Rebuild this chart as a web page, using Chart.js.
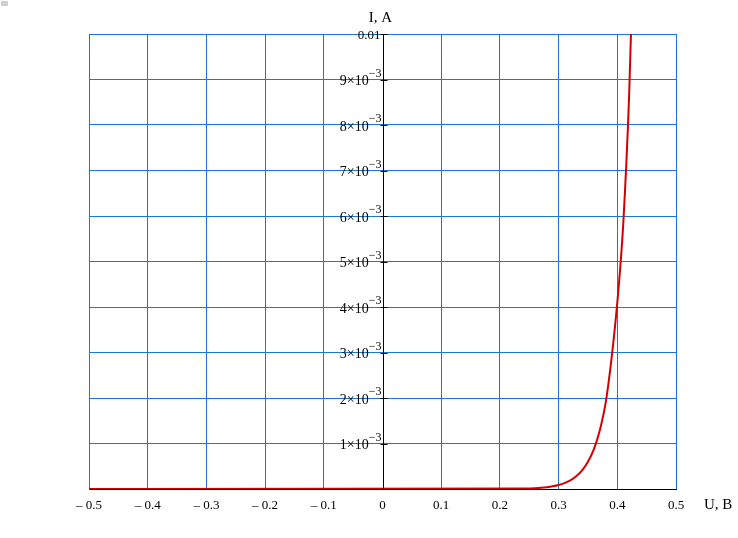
<!DOCTYPE html>
<html>
<head>
<meta charset="utf-8">
<script src="https://cdn.jsdelivr.net/npm/chart.js@4/dist/chart.umd.min.js"></script>
<style>
  body { margin: 0; background: #fff; }
  #wrap { position: relative; width: 738px; height: 538px; }
  #marca { position: absolute; left: 1px; top: 1px; width: 7px; height: 5px; background: #d0d0d0; }
</style>
</head>
<body>
<div id="wrap">
  <div id="marca"></div>
  <canvas id="grafica" width="738" height="538"></canvas>
</div>
<script>
// Datos
const tensionU = [-0.5, 0.25, 0.26, 0.27, 0.28, 0.29, 0.30, 0.31, 0.32, 0.33, 0.34, 0.35,
  0.36, 0.37, 0.38, 0.39, 0.40, 0.41, 0.42, 0.4233, 0.43];
const corrienteI = [0, 0.000013, 0.000019, 0.000028, 0.000041, 0.00006, 0.000088, 0.00013, 0.00019,
  0.00028, 0.00041, 0.0006, 0.00087, 0.00128, 0.00188, 0.00285, 0.0041, 0.0058, 0.0086, 0.01, 0.0135];
const ticksX = [-0.5, -0.4, -0.3, -0.2, -0.1, 0, 0.1, 0.2, 0.3, 0.4, 0.5];
const ticksY = ['1', '2', '3', '4', '5', '6', '7', '8', '9'];
const etiquetaX = 'U, B';
const etiquetaY = 'I, A';

const AZUL = '#1a78d0';
const FUENTE = '"Liberation Serif", "Times New Roman", serif';

// Ejes en el origen, etiquetas de Y con potencias
const ejesPlugin = {
  id: 'ejes',
  afterDraw(chart) {
    const { ctx, chartArea } = chart;
    const sx = chart.scales.x;
    const sy = chart.scales.y;
    const x0 = Math.round(sx.getPixelForValue(0)) + 0.5;
    const y0 = sy.getPixelForValue(0);

    ctx.save();
    ctx.strokeStyle = '#000';
    ctx.lineWidth = 1;
    ctx.beginPath();
    ctx.moveTo(x0, chartArea.top);
    ctx.lineTo(x0, chartArea.bottom);
    ctx.stroke();

    // marcas en el eje Y
    ctx.beginPath();
    for (let i = 1; i <= 10; i++) {
      const y = Math.round(sy.getPixelForValue(i / 1000)) + 0.5;
      ctx.moveTo(x0 - 3, y);
      ctx.lineTo(x0 + 4, y);
    }
    ctx.stroke();

    ctx.fillStyle = '#000';
    ctx.textBaseline = 'alphabetic';
    ctx.textAlign = 'right';
    ctx.font = '13px ' + FUENTE;
    ctx.fillText('0.01', x0 - 3, sy.getPixelForValue(0.01) + 5);

    ticksY.forEach(m => {
      const y = sy.getPixelForValue(Number(m) / 1000);
      ctx.font = '12px ' + FUENTE;
      const sup = '\u22123';
      const wSup = ctx.measureText(sup).width;
      ctx.fillText(sup, x0 - 2, y - 3);
      ctx.font = '14px ' + FUENTE;
      ctx.fillText(m + '\u00d710', x0 - 2 - wSup, y + 5.5);
    });

    // titulos de ejes
    ctx.font = '15px ' + FUENTE;
    ctx.textAlign = 'center';
    ctx.fillText(etiquetaY, x0 - 3, chartArea.top - 12);
    ctx.textAlign = 'left';
    ctx.fillText(etiquetaX, chartArea.right + 28, y0 + 20);
    ctx.restore();
  }
};

const ctx = document.getElementById('grafica').getContext('2d');
new Chart(ctx, {
  type: 'scatter',
  data: {
    datasets: [{
      data: tensionU.map((u, i) => ({ x: u, y: corrienteI[i] })),
      showLine: true,
      borderColor: '#d40000',
      borderWidth: 2,
      pointRadius: 0,
      cubicInterpolationMode: 'monotone'
    }]
  },
  options: {
    responsive: false,
    animation: false,
    events: [],
    layout: { padding: { left: 89, right: 62, top: 34, bottom: 0 } },
    plugins: { legend: { display: false }, tooltip: { enabled: false } },
    scales: {
      x: {
        type: 'linear',
        min: -0.5,
        max: 0.5,
        afterBuildTicks: scale => { scale.ticks = ticksX.map(v => ({ value: v })); },
        afterFit: scale => { scale.height = 49; },
        grid: {
          color: c => (c.tick && c.tick.value === 0) ? 'rgba(0,0,0,0)' : AZUL,
          lineWidth: 1,
          drawTicks: false
        },
        border: { color: '#000', width: 1 },
        ticks: {
          padding: 9,
          color: '#000',
          font: { family: FUENTE, size: 13 },
          maxRotation: 0,
          callback: v => v < 0 ? '\u2013 ' + Math.abs(v).toFixed(1) : (v === 0 ? '0' : v.toFixed(1))
        }
      },
      y: {
        type: 'linear',
        min: 0,
        max: 0.01,
        ticks: { stepSize: 0.001, display: false },
        afterFit: scale => { scale.width = 0; },
        grid: { color: AZUL, lineWidth: 1, drawTicks: false },
        border: { color: AZUL, width: 1 }
      }
    }
  },
  plugins: [ejesPlugin]
});
</script>
</body>
</html>
